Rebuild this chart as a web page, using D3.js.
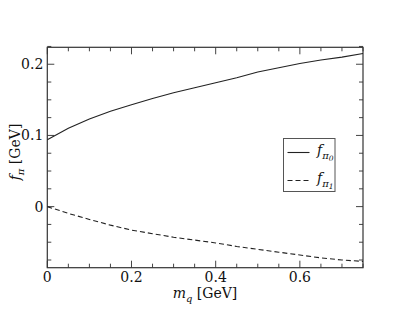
<!DOCTYPE html>
<html><head><meta charset="utf-8">
<script src="https://cdn.jsdelivr.net/npm/d3@7"></script>
<style>body{margin:0;background:#fff}svg{display:block}text{font-family:"DejaVu Serif","Liberation Serif",serif}</style>
</head><body><svg id="c" width="409" height="316"></svg>
<script>
const mq = [0, 0.05, 0.1, 0.15, 0.2, 0.25, 0.3, 0.35, 0.4, 0.45, 0.5, 0.55, 0.6, 0.65, 0.7, 0.75];
const fPi0 = [0.094, 0.110, 0.123, 0.134, 0.143, 0.152, 0.160, 0.167, 0.174, 0.181, 0.189, 0.195, 0.201, 0.206, 0.210, 0.215];
const fPi1 = [0, -0.0095, -0.018, -0.026, -0.033, -0.038, -0.043, -0.047, -0.051, -0.056, -0.060, -0.064, -0.068, -0.072, -0.075, -0.077];
const xTicks = [0, 0.2, 0.4, 0.6];
const yTicks = [0, 0.1, 0.2];

const svg = d3.select("#c");
const L = 47.3, R = 363, T = 47.3, B = 267.7;
const x = d3.scaleLinear().domain([0, 0.75]).range([L, R]);
const y = d3.scaleLinear().domain([-0.0858, 0.2238]).range([B, T]);
const col = "#222";

// ticks (inward, all four sides)
const xMinor = d3.range(0, 0.7501, 0.05);
const yMinor = d3.range(-0.075, 0.2251, 0.025);
const g = svg.append("g").attr("stroke", "#444").attr("stroke-width", 1);
xMinor.forEach(v => {
  const major = xTicks.some(t => Math.abs(t - v) < 1e-9);
  const len = major ? 7 : 4;
  g.append("line").attr("x1", x(v)).attr("x2", x(v)).attr("y1", B).attr("y2", B - len);
  g.append("line").attr("x1", x(v)).attr("x2", x(v)).attr("y1", T).attr("y2", T + len);
});
yMinor.forEach(v => {
  const major = yTicks.some(t => Math.abs(t - v) < 1e-9);
  const len = major ? 7 : 4;
  g.append("line").attr("y1", y(v)).attr("y2", y(v)).attr("x1", L).attr("x2", L + len);
  g.append("line").attr("y1", y(v)).attr("y2", y(v)).attr("x1", R).attr("x2", R - len);
});

// frame
svg.append("rect").attr("x", L).attr("y", T).attr("width", R - L).attr("height", B - T)
  .attr("fill", "none").attr("stroke", "#333").attr("stroke-width", 1.2);

const txt = () => svg.append("text").attr("fill", "#111");

// tick labels
xTicks.forEach(v => txt().attr("x", x(v)).attr("y", B + 14)
  .attr("text-anchor", "middle").attr("font-size", 14).text(v === 0 ? "0" : d3.format(".1f")(v)));
yTicks.forEach(v => txt().attr("x", L - 4).attr("y", y(v) + 5)
  .attr("text-anchor", "end").attr("font-size", 14).text(v === 0 ? "0" : d3.format(".1f")(v)));

// axis titles
const xt = txt().attr("x", 205).attr("y", 298).attr("text-anchor", "middle").attr("font-size", 14);
xt.append("tspan").attr("font-style", "italic").text("m");
xt.append("tspan").attr("font-style", "italic").attr("font-size", 10).attr("dy", 4).text("q");
xt.append("tspan").attr("dy", -4).text(" [GeV]");

const yt = txt().attr("transform", "translate(19.5,152) rotate(-90)").attr("text-anchor", "middle").attr("font-size", 14);
yt.append("tspan").attr("font-style", "italic").text("f");
yt.append("tspan").attr("font-style", "italic").attr("font-size", 10).attr("dy", 4).text("π");
yt.append("tspan").attr("dy", -4).text(" [GeV]");

// lines
const line = d3.line().x((d, i) => x(mq[i])).y(d => y(d));
svg.append("path").datum(fPi0).attr("d", line).attr("fill", "none").attr("stroke", col).attr("stroke-width", 1.1);
svg.append("path").datum(fPi1).attr("d", line).attr("fill", "none").attr("stroke", col).attr("stroke-width", 1.1)
  .attr("stroke-dasharray", "5,3");

// legend
svg.append("rect").attr("x", 283.5).attr("y", 138.5).attr("width", 51.5).attr("height", 53)
  .attr("fill", "#fff").attr("stroke", "#555").attr("stroke-width", 1);
const items = [{dash: null, sub: "0", yy: 152.5}, {dash: "5,3", sub: "1", yy: 180.5}];
items.forEach(it => {
  const l = svg.append("line").attr("x1", 287.5).attr("x2", 309.5).attr("y1", it.yy).attr("y2", it.yy)
    .attr("stroke", col).attr("stroke-width", 1.1);
  if (it.dash) l.attr("stroke-dasharray", it.dash);
  const t = txt().attr("x", 317).attr("y", it.yy + 2).attr("font-size", 14);
  t.append("tspan").attr("font-style", "italic").text("f");
  t.append("tspan").attr("font-style", "italic").attr("font-size", 10).attr("dy", 4).text("π");
  t.append("tspan").attr("font-style", "italic").attr("font-size", 7.5).attr("dy", 2.5).text(it.sub);
});
</script></body></html>
